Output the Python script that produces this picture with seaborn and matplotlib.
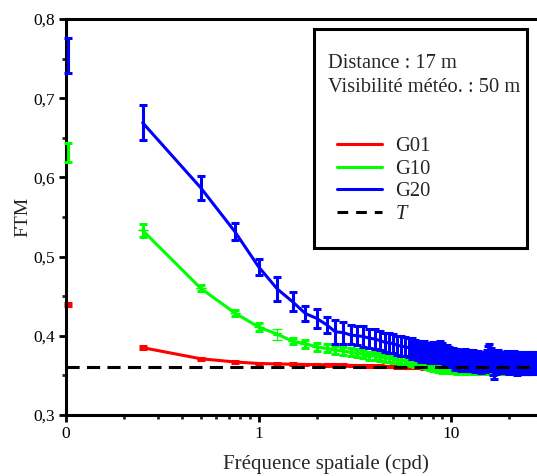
import numpy as np
import pandas as pd
import matplotlib
matplotlib.use("Agg")
import matplotlib.pyplot as plt
from matplotlib.lines import Line2D
from matplotlib.patches import Rectangle
from matplotlib.ticker import FixedLocator, FixedFormatter, LogLocator, NullFormatter, MultipleLocator
import seaborn as sns

# Spatial frequency grid (cpd), one sample every 0.25 cpd
freq = np.arange(0.25, 27.51, 0.25)

# Value at zero frequency (drawn on the left edge, labelled "0")
dc_g01, dc_g10, dc_g20 = 0.440, 0.631, 0.754
dc_err_g01, dc_err_g10, dc_err_g20 = 0.002, 0.012, 0.022

g01 = [0.385, 0.371, 0.367, 0.365, 0.3645, 0.364, 0.3637, 0.3635, 0.3632, 0.363,
       0.3628, 0.3626, 0.3624, 0.3622, 0.362, 0.3618, 0.3616, 0.3614, 0.3612, 0.361,
       0.3608, 0.3606, 0.3604, 0.3602, 0.360, 0.3599, 0.3598, 0.3597, 0.3596, 0.3595,
       0.3594, 0.3593, 0.3592, 0.3591, 0.359, 0.359, 0.359, 0.359, 0.359, 0.359,
       0.359, 0.359, 0.359, 0.359, 0.359, 0.359, 0.359, 0.359, 0.359, 0.359,
       0.359, 0.359, 0.359, 0.359, 0.359, 0.359, 0.359, 0.359, 0.359, 0.359,
       0.359, 0.359, 0.359, 0.359, 0.359, 0.359, 0.359, 0.359, 0.359, 0.359,
       0.359, 0.359, 0.359, 0.359, 0.359, 0.359, 0.359, 0.359, 0.359, 0.359,
       0.359, 0.359, 0.359, 0.359, 0.359, 0.359, 0.359, 0.359, 0.359, 0.359,
       0.359, 0.359, 0.359, 0.359, 0.359, 0.359, 0.359, 0.359, 0.359, 0.359,
       0.359, 0.359, 0.359, 0.359, 0.359, 0.359, 0.359, 0.359, 0.359, 0.359]

g10 = [0.533, 0.460, 0.429, 0.411, 0.402, 0.393, 0.390, 0.386, 0.384, 0.382,
       0.381, 0.379, 0.378, 0.377, 0.375, 0.375, 0.373, 0.372, 0.372, 0.371,
       0.370, 0.369, 0.369, 0.368, 0.367, 0.366, 0.366, 0.365, 0.364, 0.363,
       0.362, 0.361, 0.360, 0.359, 0.359, 0.358, 0.358, 0.358, 0.359, 0.358,
       0.358, 0.358, 0.357, 0.358, 0.358, 0.358, 0.357, 0.358, 0.358, 0.358,
       0.358, 0.357, 0.358, 0.358, 0.358, 0.357, 0.358, 0.358, 0.358, 0.358,
       0.357, 0.358, 0.358, 0.358, 0.358, 0.357, 0.358, 0.358, 0.358, 0.358,
       0.357, 0.358, 0.358, 0.358, 0.358, 0.357, 0.358, 0.358, 0.358, 0.358,
       0.357, 0.358, 0.358, 0.358, 0.358, 0.357, 0.358, 0.358, 0.358, 0.358,
       0.357, 0.358, 0.358, 0.358, 0.358, 0.357, 0.358, 0.358, 0.358, 0.358,
       0.357, 0.358, 0.358, 0.358, 0.358, 0.357, 0.358, 0.358, 0.358, 0.358]

g20 = [0.669, 0.587, 0.532, 0.487, 0.459, 0.443, 0.428, 0.422, 0.414, 0.405,
       0.404, 0.401, 0.400, 0.399, 0.397, 0.396, 0.394, 0.392, 0.391, 0.390,
       0.388, 0.387, 0.386, 0.385, 0.384, 0.383, 0.382, 0.380, 0.381, 0.379,
       0.378, 0.379, 0.377, 0.378, 0.380, 0.379, 0.376, 0.375, 0.374, 0.373,
       0.372, 0.370, 0.371, 0.369, 0.368, 0.370, 0.371, 0.369, 0.367, 0.368,
       0.370, 0.369, 0.366, 0.367, 0.368, 0.366, 0.365, 0.367, 0.368, 0.366,
       0.369, 0.372, 0.374, 0.371, 0.368, 0.365, 0.363, 0.366, 0.369, 0.370,
       0.368, 0.366, 0.367, 0.368, 0.366, 0.365, 0.367, 0.368, 0.366, 0.364,
       0.366, 0.367, 0.365, 0.366, 0.368, 0.367, 0.365, 0.364, 0.366, 0.367,
       0.366, 0.365, 0.364, 0.366, 0.367, 0.365, 0.364, 0.366, 0.365, 0.364,
       0.365, 0.366, 0.364, 0.365, 0.366, 0.364, 0.365, 0.366, 0.365, 0.366]

err_g01 = [0.0015, 0.001, 0.001, 0.001] + [0.001] * 106
err_g10 = [0.008, 0.004, 0.004, 0.005, 0.007, 0.004, 0.005, 0.005, 0.005, 0.005] + [0.005] * 100
err_g20 = [0.022, 0.015, 0.011, 0.010, 0.015, 0.012, 0.009, 0.012, 0.010, 0.015,
           0.014, 0.012, 0.012, 0.013, 0.012, 0.013, 0.012, 0.012, 0.013, 0.012,
           0.012, 0.013, 0.012, 0.012, 0.013, 0.012, 0.012, 0.013, 0.012, 0.012,
           0.012, 0.013, 0.012, 0.012, 0.013, 0.012, 0.012, 0.013, 0.012, 0.012,
           0.012, 0.013, 0.012, 0.012, 0.013, 0.012, 0.012, 0.013, 0.012, 0.012,
           0.012, 0.013, 0.012, 0.012, 0.013, 0.012, 0.012, 0.013, 0.012, 0.012,
           0.013, 0.015, 0.016, 0.014, 0.012, 0.015, 0.018, 0.014, 0.012, 0.012,
           0.012, 0.013, 0.012, 0.012, 0.013, 0.012, 0.012, 0.013, 0.012, 0.012,
           0.012, 0.013, 0.012, 0.012, 0.013, 0.012, 0.012, 0.013, 0.012, 0.012,
           0.012, 0.013, 0.012, 0.012, 0.013, 0.012, 0.012, 0.013, 0.012, 0.012,
           0.012, 0.013, 0.012, 0.012, 0.013, 0.012, 0.012, 0.013, 0.012, 0.012]

t_level = 0.36

series_names = ["G01", "G10", "G20"]
colors = {"G01": "#ff0000", "G10": "#00ff00", "G20": "#0000ff"}
legend_lines = ["Distance : 17 m", "Visibilité météo. : 50 m"]
ytick_vals = [0.3, 0.4, 0.5, 0.6, 0.7, 0.8]
ytick_labels = ["0,3", "0,4", "0,5", "0,6", "0,7", "0,8"]
xtick_vals = [0.1, 1, 10]
xtick_labels = ["0", "1", "10"]

sns.set_style("ticks")
plt.rcParams["font.family"] = ["Liberation Serif", "DejaVu Serif"]
plt.rcParams["mathtext.fontset"] = "stix"

df = pd.DataFrame({
    "freq": np.concatenate([freq] * 3),
    "FTM": np.concatenate([g01, g10, g20]),
    "serie": np.repeat(series_names, len(freq)),
})
errs = {"G01": err_g01, "G10": err_g10, "G20": err_g20}
vals = {"G01": g01, "G10": g10, "G20": g20}
dc = {"G01": (dc_g01, dc_err_g01), "G10": (dc_g10, dc_err_g10), "G20": (dc_g20, dc_err_g20)}

fig = plt.figure(figsize=(5.37, 4.76), dpi=100)
ax = fig.add_axes([0.1229, 0.1282, 0.9683, 0.8319])

lw = 2.2
for i, name in enumerate(series_names):
    sub = df[df["serie"] == name]
    sns.lineplot(data=sub, x="freq", y="FTM", color=colors[name], linewidth=lw,
                 ax=ax, legend=False, zorder=2 + i)
    e = list(errs[name])
    if name == "G10":
        # the 1.25 cpd sample is drawn with a thin bar
        thin = [0.0] * len(e)
        thin[4] = e[4]
        e[4] = 0.0
        ax.errorbar(freq, vals[name], yerr=thin, fmt="none", ecolor=colors[name],
                    elinewidth=0.9, capsize=3.5, capthick=0.9, zorder=2 + i)
    ax.errorbar(freq, vals[name], yerr=e, fmt="none", ecolor=colors[name],
                elinewidth=lw, capsize=3.2, capthick=lw, zorder=2 + i)
    v0, e0 = dc[name]
    ax.errorbar([0.102], [v0], yerr=[e0], fmt="none", ecolor=colors[name],
                elinewidth=lw, capsize=3.2, capthick=lw, zorder=2 + i, clip_on=False)

ax.axhline(t_level, color="black", linewidth=lw, dashes=(4.3, 2.4), zorder=6)

ax.set_xscale("log")
ax.set_xlim(0.1, 50)
ax.set_ylim(0.3, 0.8)

ax.xaxis.set_major_locator(FixedLocator(xtick_vals))
ax.xaxis.set_major_formatter(FixedFormatter(xtick_labels))
ax.xaxis.set_minor_locator(LogLocator(base=10, subs=np.arange(2, 10)))
ax.xaxis.set_minor_formatter(NullFormatter())
ax.yaxis.set_major_locator(FixedLocator(ytick_vals))
ax.yaxis.set_major_formatter(FixedFormatter(ytick_labels))
ax.yaxis.set_minor_locator(MultipleLocator(0.05))

for side in ["left", "bottom", "top"]:
    ax.spines[side].set_linewidth(2.2)
    ax.spines[side].set_color("black")
ax.spines["right"].set_visible(False)
ax.tick_params(which="major", direction="out", length=5, width=2, labelsize=12.5,
               colors="black", pad=3)
ax.tick_params(which="minor", direction="out", length=3, width=2)
ax.tick_params(top=False, right=False, which="both")

ax.set_xlabel("Fréquence spatiale (cpd)", fontsize=15, labelpad=9)
ax.set_ylabel("FTM", fontsize=14, labelpad=1)

# boxed caption and legend
fig.patches.append(Rectangle((314 / 537, 1 - 248 / 476), 213 / 537, 219 / 476,
                             transform=fig.transFigure, fill=False,
                             edgecolor="black", linewidth=2.2, zorder=10))
fig.text(328 / 537, 1 - 63 / 476, legend_lines[0], fontsize=14.8, va="center", ha="left")
fig.text(328 / 537, 1 - 88 / 476, legend_lines[1], fontsize=14.8, va="center", ha="left")

handles = [Line2D([], [], color=colors[n], linewidth=lw) for n in series_names]
handles.append(Line2D([], [], color="black", linewidth=lw, dashes=(3.5, 2.6)))
leg = ax.legend(handles, series_names + ["T"], loc="upper left",
                bbox_to_anchor=(337 / 537, 1 - 137 / 476), bbox_transform=fig.transFigure,
                frameon=False, fontsize=14.8, handlelength=2.2, handletextpad=0.65,
                labelspacing=0.15, borderpad=0, borderaxespad=0)
leg.get_texts()[3].set_fontstyle("italic")

fig.savefig("out.png", dpi=100)
